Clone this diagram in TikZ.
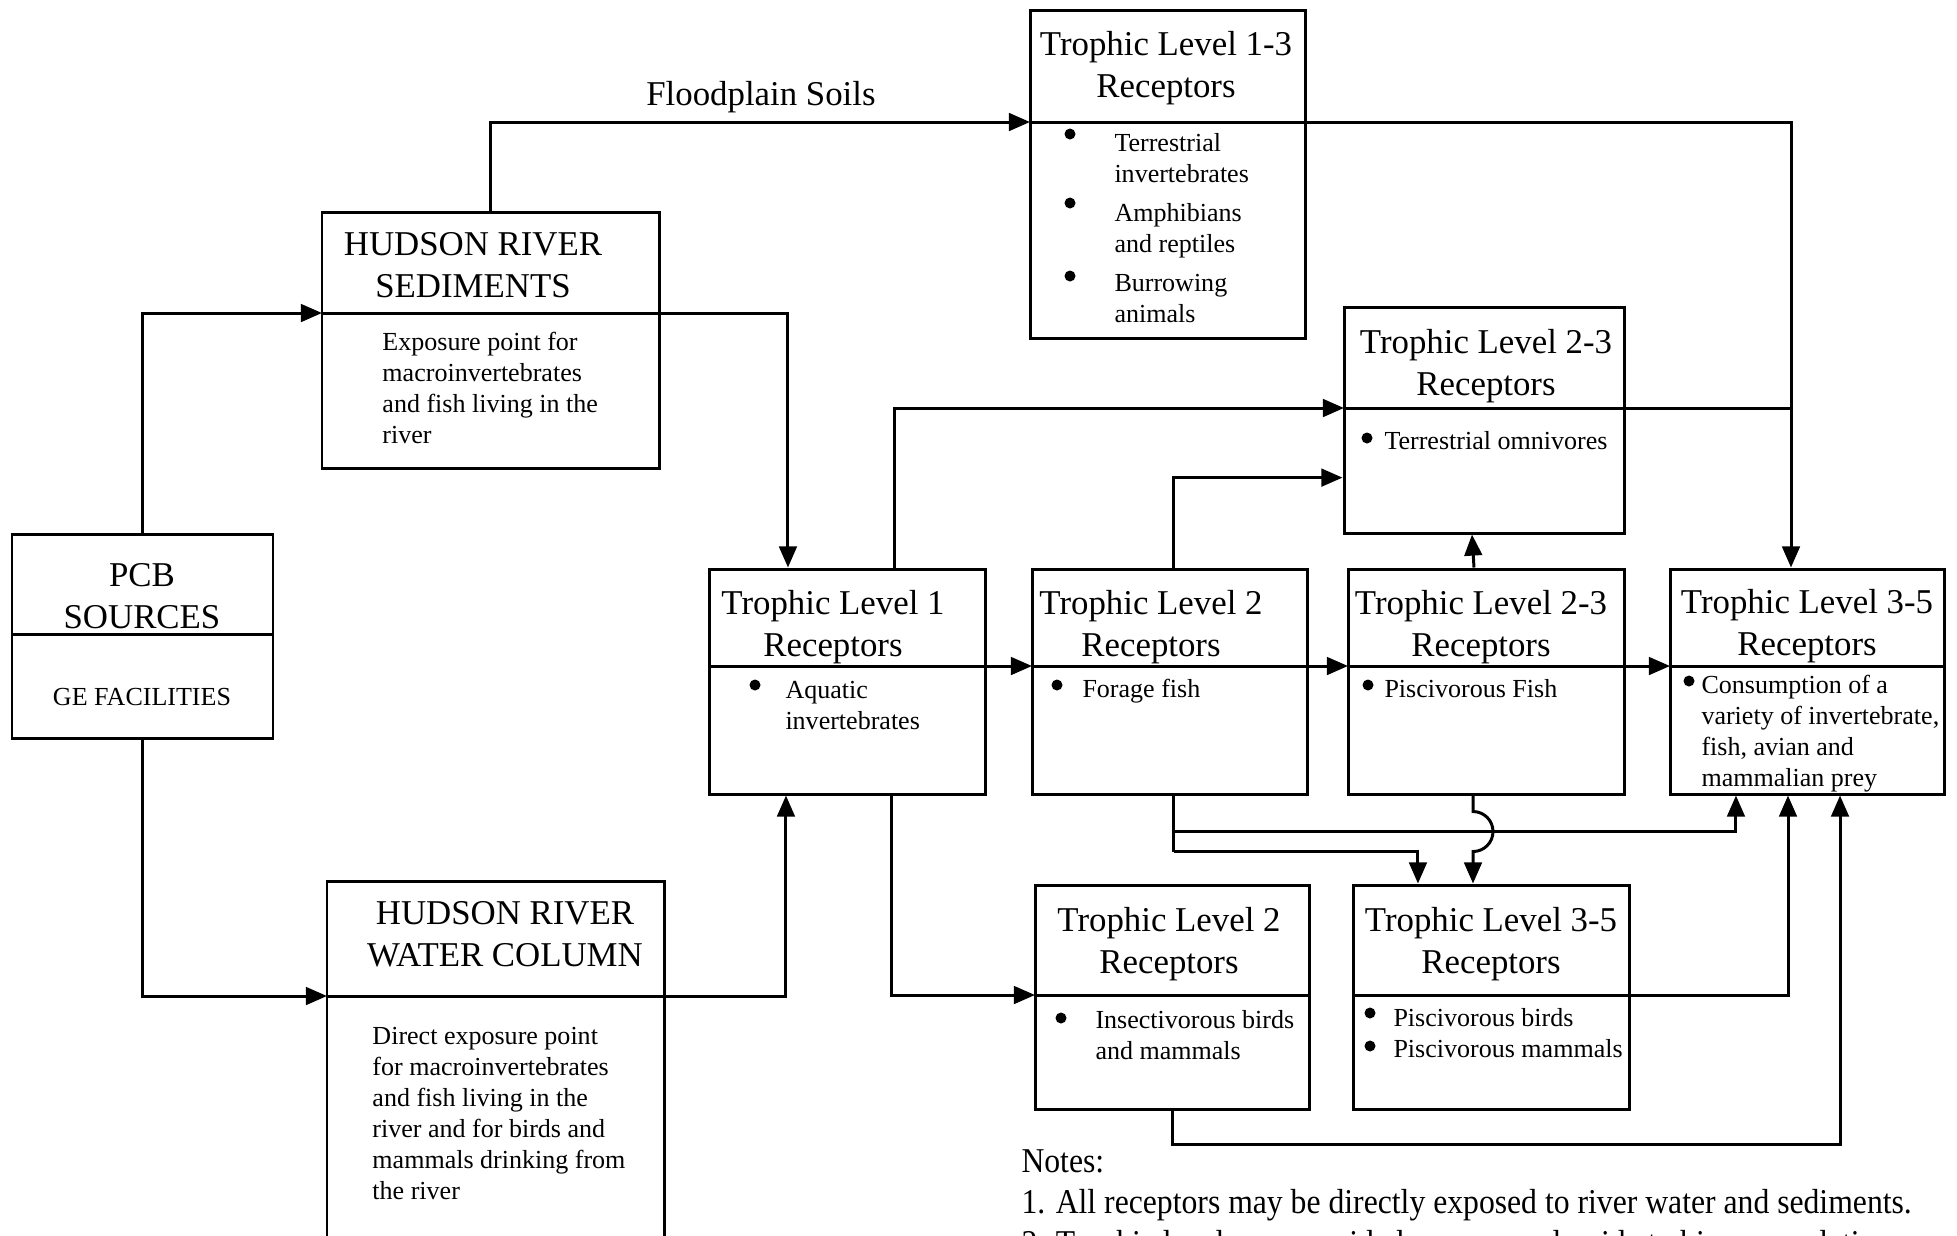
\documentclass[tikz,border=0pt]{standalone}
\usepackage{fontspec}
\setmainfont{Liberation Serif}
\newfontfamily\notesfont[FakeStretch=0.91]{Liberation Serif}
\usetikzlibrary{arrows.meta,fit}

\begin{document}
\begin{tikzpicture}[x=0.01cm, y=-0.01cm, line width=0.85pt,
        box/.style={draw, inner sep=0pt},
        ttl/.style={font=\fontsize{9.9}{11.9}\selectfont, align=center, inner sep=0pt},
        txt/.style={font=\fontsize{7.4}{8.8}\selectfont, align=left, inner sep=0pt, anchor=north west},
        arr/.style={-{Triangle[length=6pt,width=5pt]}}]
        \useasboundingbox (0,0) rectangle (1957,1235);

        % sources and exposure media
        \node[box, fit={(12,534) (273,738)}] (pcb) {};
        \coordinate (pcb-d) at (12,634);
        \draw (pcb-d) -- (pcb.east |- pcb-d);
        \node[ttl] (pcb-t) at (142,596) {PCB\\SOURCES};
        \node[txt, anchor=center] (pcb-x) at (142,697) {GE FACILITIES};

        \node[box, fit={(322,212) (659,468)}] (sed) {};
        \coordinate (sed-d) at (322,313);
        \draw (sed-d) -- (sed.east |- sed-d);
        \node[ttl] (sed-t) at (473,265) {HUDSON RIVER\\SEDIMENTS};
        \node[txt] (sed-x) at (381,331) {Exposure point for\\macroinvertebrates\\and fish living in the\\river};

        \node[box, fit={(327,881) (664,1300)}] (wc) {};
        \coordinate (wc-d) at (327,996);
        \draw (wc-d) -- (wc.east |- wc-d);
        \node[ttl] (wc-t) at (505,934) {HUDSON RIVER\\WATER COLUMN};
        \node[txt] (wc-x) at (371,1026) {Direct exposure point\\for macroinvertebrates\\and fish living in the\\river and for birds and\\mammals drinking from\\the river};

        \node[ttl] (fp) at (761,97) {Floodplain Soils};

        % receptors
        \node[box, fit={(1030,10) (1305,338)}] (tl13) {};
        \coordinate (tl13-d) at (1030,122);
        \draw (tl13-d) -- (tl13.east |- tl13-d);
        \node[ttl] (tl13-t) at (1166,68) {Trophic Level 1-3\\Receptors};
        \fill (1070,134) circle (0.55mm) (1070,203) circle (0.55mm) (1070,276) circle (0.55mm);
        \node[txt] (tl13-x) at (1113,132) {Terrestrial\\invertebrates\\[2.3pt]Amphibians\\and reptiles\\[2.3pt]Burrowing\\animals};

        \node[box, fit={(1344,307) (1624,533)}] (tl23t) {};
        \coordinate (tl23t-d) at (1344,408);
        \draw (tl23t-d) -- (tl23t.east |- tl23t-d);
        \node[ttl] (tl23t-t) at (1486,366) {Trophic Level 2-3\\Receptors};
        \fill (1367,438) circle (0.55mm);
        \node[txt] (tl23t-x) at (1383,430) {Terrestrial omnivores};

        \node[box, fit={(709,569) (985,794)}] (tl1) {};
        \coordinate (tl1-d) at (709,666);
        \draw (tl1-d) -- (tl1.east |- tl1-d);
        \node[ttl] (tl1-t) at (833,627) {Trophic Level 1\\Receptors};
        \fill (755,685) circle (0.55mm);
        \node[txt] (tl1-x) at (784,680) {Aquatic\\invertebrates};

        \node[box, fit={(1032,569) (1307,794)}] (tl2) {};
        \coordinate (tl2-d) at (1032,666);
        \draw (tl2-d) -- (tl2.east |- tl2-d);
        \node[ttl] (tl2-t) at (1151,627) {Trophic Level 2\\Receptors};
        \fill (1057,685) circle (0.55mm);
        \node[txt] (tl2-x) at (1081,678) {Forage fish};

        \node[box, fit={(1348,569) (1624,794)}] (tl23m) {};
        \coordinate (tl23m-d) at (1348,666);
        \draw (tl23m-d) -- (tl23m.east |- tl23m-d);
        \node[ttl] (tl23m-t) at (1481,627) {Trophic Level 2-3\\Receptors};
        \fill (1368,685) circle (0.55mm);
        \node[txt] (tl23m-x) at (1383,678) {Piscivorous Fish};

        \node[box, fit={(1670,569) (1944,794)}] (tl35r) {};
        \coordinate (tl35r-d) at (1670,666);
        \draw (tl35r-d) -- (tl35r.east |- tl35r-d);
        \node[ttl] (tl35r-t) at (1807,626) {Trophic Level 3-5\\Receptors};
        \fill (1689,681) circle (0.55mm);
        \node[txt] (tl35r-x) at (1700,674) {Consumption of a\\variety of invertebrate,\\fish, avian and\\mammalian prey};

        \node[box, fit={(1035,885) (1309,1109)}] (tl2b) {};
        \coordinate (tl2b-d) at (1035,995);
        \draw (tl2b-d) -- (tl2b.east |- tl2b-d);
        \node[ttl] (tl2b-t) at (1169,944) {Trophic Level 2\\Receptors};
        \fill (1061,1018) circle (0.55mm);
        \node[txt] (tl2b-x) at (1094,1009) {Insectivorous birds\\and mammals};

        \node[box, fit={(1353,885) (1629,1109)}] (tl35b) {};
        \coordinate (tl35b-d) at (1353,995);
        \draw (tl35b-d) -- (tl35b.east |- tl35b-d);
        \node[ttl] (tl35b-t) at (1491,944) {Trophic Level 3-5\\Receptors};
        \fill (1370,1013) circle (0.55mm) (1370,1046) circle (0.55mm);
        \node[txt] (tl35b-x) at (1392,1007) {Piscivorous birds\\Piscivorous mammals};

        \node[ttl, align=left, anchor=north west, font=\notesfont\fontsize{9.9}{11.7}\selectfont] (notes) at (1020,1148) {Notes:\\1. All receptors may be directly exposed to river water and sediments.\\2. Trophic levels are provided as a general guide to bioaccumulation};

        % pathways
        \draw[arr] (pcb.north) |- (sed-d);
        \draw[arr] (pcb.south) |- (wc-d);
        \draw[arr] (sed.north) |- (tl13-d);
        \draw[arr] (sed.east |- sed-d) -| ([xshift=-0.59cm]tl1.north);
        \draw[arr] (wc.east |- wc-d) -| ([xshift=-0.61cm]tl1.south);
        \draw[arr] (tl1.east |- tl1-d) -- (tl2-d);
        \draw[arr] (tl2.east |- tl2-d) -- (tl23m-d);
        \draw[arr] (tl23m.east |- tl23m-d) -- (tl35r-d);
        \draw[arr] ([xshift=0.47cm]tl1.north) |- (tl23t-d);
        \draw[arr] ([xshift=0.04cm]tl2.north) |- ([yshift=-1.72cm]tl23t.north west);
        \draw[arr] ([xshift=-0.12cm]tl23m.north) -- ([xshift=-0.12cm]tl23t.south);
        \draw[arr] (tl13.east |- tl13-d) -| ([xshift=-0.16cm]tl35r.north);
        \draw (tl23t.east |- tl23t-d) -- ([xshift=-0.16cm]tl35r.north |- tl23t-d);
        \draw[arr] ([xshift=0.44cm]tl1.south) |- (tl2b-d);
        \draw ([xshift=0.04cm]tl2.south) -- ++(0,56);
        \draw[arr] ([xshift=0.04cm, yshift=-0.36cm]tl2.south) -| ([xshift=-0.71cm]tl35r.south);
        \draw[arr] ([xshift=0.04cm, yshift=-0.56cm]tl2.south) -| ([xshift=-0.73cm]tl35b.north);
        \draw[arr] ([xshift=-0.13cm]tl23m.south) -- ++(0,16) arc[start angle=90, end angle=-90, radius=0.2cm] -- ([xshift=-0.18cm]tl35b.north);
        \draw[arr] (tl35b.east |- tl35b-d) -| ([xshift=-0.19cm]tl35r.south);
        \draw[arr] (tl2b.south) -- ++(0,34) -| ([xshift=0.33cm]tl35r.south);
    \end{tikzpicture}
\end{document}
